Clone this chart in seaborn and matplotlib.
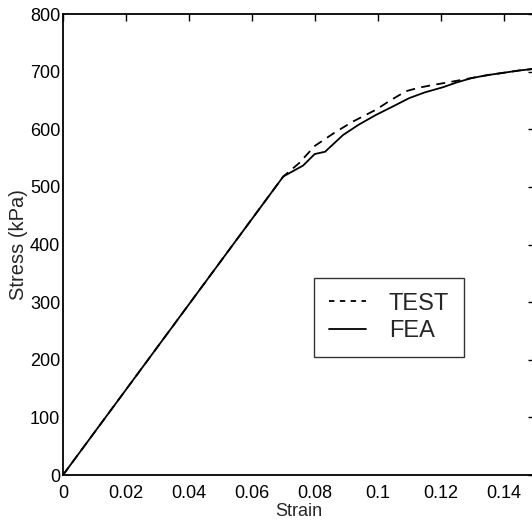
import matplotlib
matplotlib.use("Agg")
import matplotlib.pyplot as plt
import seaborn as sns
import pandas as pd

# Stress-strain data (strain in mm/mm, stress in kPa)
test_strain = [0.0, 0.070, 0.075, 0.080, 0.086, 0.092, 0.0995, 0.104, 0.109, 0.113,
               0.1177, 0.122, 0.126, 0.130, 0.135, 0.140, 0.145, 0.150]
test_stress = [0, 518, 541, 571, 593, 613, 634, 650, 666, 672,
               677, 681, 685, 689, 694, 698, 702, 705]

fea_strain = [0.0, 0.070, 0.0763, 0.080, 0.0833, 0.089, 0.094, 0.0995, 0.105, 0.110,
              0.115, 0.1208, 0.125, 0.130, 0.135, 0.140, 0.145, 0.150]
fea_stress = [0, 518, 537, 557, 561, 590, 608, 625, 640, 654,
              664, 673, 681, 689, 694, 698, 702, 705]

series_labels = ["TEST", "FEA"]
x_ticks = [0, 0.02, 0.04, 0.06, 0.08, 0.1, 0.12, 0.14]
x_tick_labels = ["0", "0.02", "0.04", "0.06", "0.08", "0.1", "0.12", "0.14"]
y_ticks = [0, 100, 200, 300, 400, 500, 600, 700, 800]

sns.set_style("white")
plt.rcParams["font.family"] = ["Liberation Sans", "DejaVu Sans"]

fig = plt.figure(figsize=(5.32, 5.25), dpi=100)
ax = fig.add_axes([63 / 532, 50 / 525, 472 / 532, 461 / 525])

test_df = pd.DataFrame({"strain": test_strain, "stress": test_stress})
fea_df = pd.DataFrame({"strain": fea_strain, "stress": fea_stress})

sns.lineplot(data=test_df, x="strain", y="stress", ax=ax, color="black",
             linewidth=1.3, sort=False, estimator=None, label=series_labels[0])
ax.lines[-1].set_dashes([5, 3.5])
sns.lineplot(data=fea_df, x="strain", y="stress", ax=ax, color="black",
             linewidth=1.3, sort=False, estimator=None, label=series_labels[1])

ax.set_xlim(0, 0.15)
ax.set_ylim(0, 800)
ax.set_xticks(x_ticks)
ax.set_xticklabels(x_tick_labels)
ax.set_yticks(y_ticks)

for side in ["left", "right", "top", "bottom"]:
    ax.spines[side].set_visible(True)
    ax.spines[side].set_color("black")
    ax.spines[side].set_linewidth(1.3)

ax.tick_params(axis="both", which="major", direction="in", length=5, width=1,
               colors="black", top=True, right=True, labelsize=13)
ax.tick_params(axis="x", pad=7)
ax.tick_params(axis="y", pad=2)

ax.set_xlabel("Strain", fontsize=13, labelpad=1)
ax.set_ylabel("Stress (kPa)", fontsize=14.5, labelpad=1)

leg = ax.legend(loc="upper left", bbox_to_anchor=(314 / 532, 1 - 278 / 525),
                bbox_transform=fig.transFigure, frameon=True, fancybox=False,
                fontsize=17, handlelength=1.6, handletextpad=0.95,
                labelspacing=0.23, borderpad=0.62, borderaxespad=0)
leg.get_frame().set_edgecolor("black")
leg.get_frame().set_linewidth(1.0)
leg.get_lines()[0].set_dashes([3, 3])

fig.savefig("out.png", dpi=100)
